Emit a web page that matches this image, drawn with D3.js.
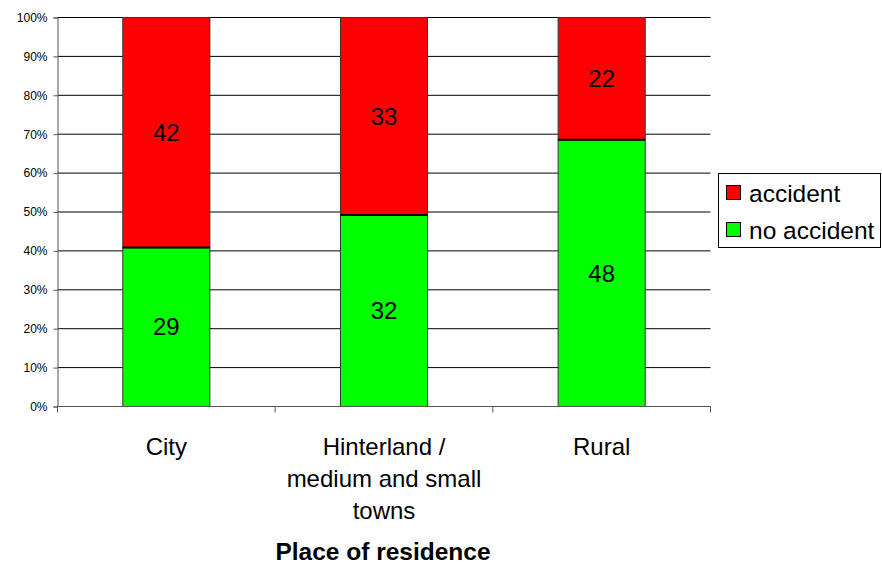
<!DOCTYPE html>
<html><head><meta charset="utf-8">
<script src="https://cdn.jsdelivr.net/npm/d3@7"></script>
<style>body{margin:0;background:#fff}svg{display:block;font-family:Arial,"Liberation Sans",sans-serif}</style>
</head><body><svg id="c" width="882" height="565"></svg>
<script>
const categories = [["City"], ["Hinterland /", "medium and small", "towns"], ["Rural"]];
const catKeys = ["City", "Hinterland", "Rural"];
const noAccident = [29, 32, 48];
const accident = [42, 33, 22];
const yTicks = [0,0.1,0.2,0.3,0.4,0.5,0.6,0.7,0.8,0.9,1];
const seriesNames = ["accident", "no accident"];
const colors = {"accident": "#ff0000", "no accident": "#00ff00"};

const svg = d3.select("#c");
const L = 57.5, R = 710.5, T = 17.5, B = 406.5;
const x = d3.scaleBand().domain(catKeys).range([L, R]).paddingInner(0.6).paddingOuter(0.3);
const xb = d3.scaleBand().domain(catKeys).range([L, R]);
const y = d3.scaleLinear().domain([0,1]).range([B, T]);

const data = catKeys.map((k,i)=>({key:k, noacc:noAccident[i], acc:accident[i], total:noAccident[i]+accident[i]}));

// gridlines
svg.append("g").selectAll("line").data(yTicks).join("line")
  .attr("x1", L).attr("x2", R).attr("y1", d=>y(d)).attr("y2", d=>y(d))
  .attr("stroke", "#000").attr("stroke-width", 1);

// bars
const g = svg.append("g");
data.forEach(d=>{
  const p = d.noacc/d.total;
  g.append("rect").attr("x", x(d.key)).attr("width", x.bandwidth())
    .attr("y", y(p)).attr("height", y(0)-y(p))
    .attr("fill", colors["no accident"]).attr("stroke", "#333").attr("stroke-width", 1);
  g.append("rect").attr("x", x(d.key)).attr("width", x.bandwidth())
    .attr("y", y(1)).attr("height", y(p)-y(1))
    .attr("fill", colors["accident"]).attr("stroke", "#333").attr("stroke-width", 1);
  g.append("line").attr("x1", x(d.key)).attr("x2", x(d.key)+x.bandwidth())
    .attr("y1", y(p)).attr("y2", y(p)).attr("stroke", "#000").attr("stroke-width", 2);
  g.append("text").attr("x", x(d.key)+x.bandwidth()/2).attr("y", y(p/2)).attr("dy", "0.35em")
    .attr("text-anchor", "middle").attr("font-size", 24).text(d.noacc);
  g.append("text").attr("x", x(d.key)+x.bandwidth()/2).attr("y", y((1+p)/2)).attr("dy", "0.35em")
    .attr("text-anchor", "middle").attr("font-size", 24).text(d.acc);
});

// y axis
const yAxis = svg.append("g").attr("transform", `translate(${L},0)`)
  .call(d3.axisLeft(y).tickValues(yTicks).tickFormat(d3.format(".0%")).tickSize(4).tickPadding(6));
yAxis.select(".domain").attr("stroke", "#555");
yAxis.selectAll(".tick line").attr("stroke", "#555");
yAxis.selectAll("text").attr("font-size", 12).attr("font-family", "Arial,'Liberation Sans',sans-serif").attr("fill", "#000");

// x axis
svg.append("line").attr("x1", L).attr("x2", R).attr("y1", B).attr("y2", B).attr("stroke", "#555");
const bounds = catKeys.map(k=>xb(k)).concat([R]);
svg.append("g").selectAll("line").data(bounds).join("line")
  .attr("x1", d=>d).attr("x2", d=>d).attr("y1", B).attr("y2", B+6).attr("stroke", "#555");

catKeys.forEach((k,i)=>{
  const t = svg.append("text").attr("x", xb(k)+xb.bandwidth()/2).attr("y", 455)
    .attr("text-anchor", "middle").attr("font-size", 24);
  categories[i].forEach((line,j)=>{
    t.append("tspan").attr("x", xb(k)+xb.bandwidth()/2).attr("dy", j===0?0:32).text(line);
  });
});

svg.append("text").attr("x", xb("Hinterland")+xb.bandwidth()/2 - 1).attr("y", 560)
  .attr("text-anchor", "middle").attr("font-size", 24.5).attr("font-weight", "bold").text("Place of residence");

// legend
const lg = svg.append("g");
lg.append("rect").attr("x", 718.5).attr("y", 173.5).attr("width", 162).attr("height", 74)
  .attr("fill", "#fff").attr("stroke", "#000");
seriesNames.forEach((s,i)=>{
  const yy = 193 + i*37;
  lg.append("rect").attr("x", 726.5).attr("y", yy-7.5).attr("width", 14).attr("height", 14)
    .attr("fill", colors[s]).attr("stroke", "#000");
  lg.append("text").attr("x", 749).attr("y", yy).attr("dy", "0.35em").attr("font-size", 24.5).text(s);
});
</script></body></html>
